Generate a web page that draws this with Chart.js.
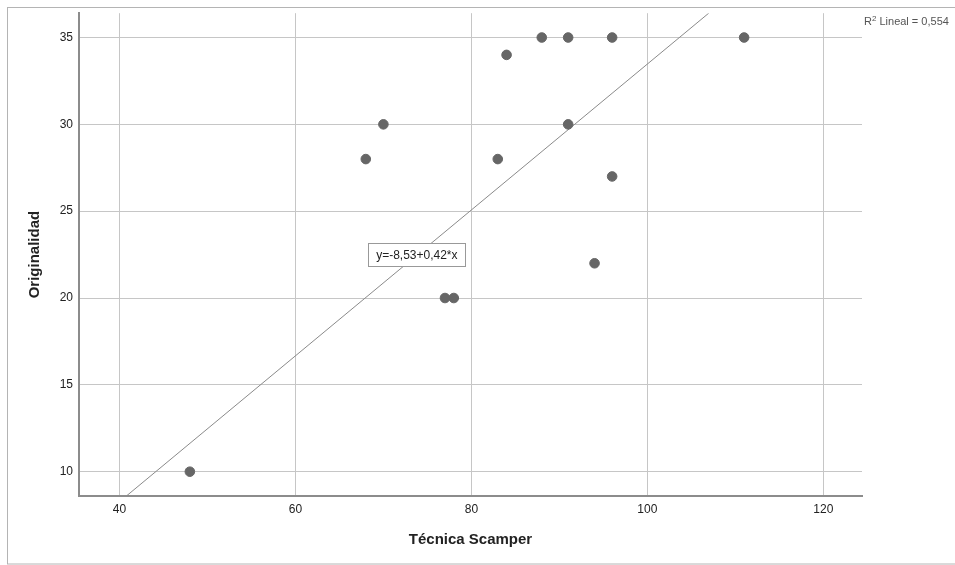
<!DOCTYPE html>
<html>
<head>
    <title>Técnica Scamper vs Originalidad</title>
    <style>
        html, body { margin: 0; padding: 0; background: #fff; }
        #wrap { width: 955px; height: 565px; position: relative; }
    </style>
</head>
<body>
    <div id="wrap"><canvas id="scatter" width="955" height="565"></canvas></div>
    <script src="https://cdn.jsdelivr.net/npm/chart.js"></script>
    <script>
        // observations
        const scamper = [48, 68, 70, 77, 78, 83, 84, 88, 91, 91, 94, 96, 96, 111];
        const originalidad = [10, 28, 30, 20, 20, 28, 34, 35, 35, 30, 22, 35, 27, 35];

        // fitted line  y = a + b*x
        const intercept = -8.53;
        const slope = 0.42;
        const rSquared = '0,554';

        const xTicks = [40, 60, 80, 100, 120];
        const yTicks = [10, 15, 20, 25, 30, 35];
        const xRange = [35.4, 124.4];
        const yRange = [8.6, 36.4];

        const points = scamper.map((x, i) => ({ x: x, y: originalidad[i] }));

        // endpoints of the fit line where it leaves the plot box
        const fitAt = x => intercept + slope * x;
        const x0 = Math.max(xRange[0], (yRange[0] - intercept) / slope);
        const x1 = Math.min(xRange[1], (yRange[1] - intercept) / slope);
        const fitLine = [{ x: x0, y: fitAt(x0) }, { x: x1, y: fitAt(x1) }];

        const eqText = 'y=-8,53+0,42*x';

        const extras = {
            id: 'extras',
            beforeDraw(chart) {
                const c = chart.ctx;
                c.save();
                c.strokeStyle = '#b4b4b4';
                c.lineWidth = 1;
                c.strokeRect(7.5, 7.5, 960, 556.5);
                c.restore();
            },
            afterDatasetsDraw(chart) {
                const c = chart.ctx;
                const xs = chart.scales.x, ys = chart.scales.y;
                c.save();
                // equation box
                c.font = '12px "Liberation Sans", Arial, sans-serif';
                const cx = xs.getPixelForValue(73.8);
                const cy = ys.getPixelForValue(22.5);
                const w = 97, h = 23;
                c.fillStyle = '#fff';
                c.fillRect(cx - w / 2, cy - h / 2, w, h);
                c.strokeStyle = '#999';
                c.lineWidth = 1;
                c.strokeRect(Math.round(cx - w / 2) + 0.5, Math.round(cy - h / 2) + 0.5, w, h);
                c.fillStyle = '#222';
                c.textAlign = 'center';
                c.textBaseline = 'middle';
                c.fillText(eqText, cx, cy + 1);

                // R² note in the corner
                c.textAlign = 'left';
                c.textBaseline = 'alphabetic';
                c.fillStyle = '#555';
                let tx = chart.chartArea.right + 2;
                const ty = 25;
                c.font = '11px "Liberation Sans", Arial, sans-serif';
                c.fillText('R', tx, ty);
                tx += c.measureText('R').width;
                c.font = '8px "Liberation Sans", Arial, sans-serif';
                c.fillText('2', tx, ty - 4);
                tx += c.measureText('2').width;
                c.font = '11px "Liberation Sans", Arial, sans-serif';
                c.fillText(' Lineal = ' + rSquared, tx, ty);
                c.restore();
            }
        };

        const font = { family: '"Liberation Sans", Arial, sans-serif', size: 12 };
        const titleFont = { family: '"Liberation Sans", Arial, sans-serif', size: 15, weight: 'bold' };

        new Chart(document.getElementById('scatter'), {
            type: 'scatter',
            data: {
                datasets: [{
                    label: 'Originalidad',
                    data: points,
                    backgroundColor: '#666',
                    borderColor: '#666',
                    pointRadius: 4.8,
                    pointHoverRadius: 4.8
                }, {
                    type: 'line',
                    label: 'Lineal',
                    data: fitLine,
                    borderColor: '#8a8a8a',
                    borderWidth: 1,
                    pointRadius: 0,
                    fill: false
                }]
            },
            options: {
                responsive: false,
                animation: false,
                layout: { padding: { top: 13, right: 93, left: 0, bottom: 0 } },
                plugins: { legend: { display: false }, tooltip: { enabled: false } },
                scales: {
                    x: {
                        type: 'linear',
                        min: xRange[0],
                        max: xRange[1],
                        afterBuildTicks: s => { s.ticks = xTicks.map(v => ({ value: v })); },
                        afterFit: s => { s.height = 565 - 496; },
                        grid: { color: '#c6c6c6', drawTicks: false },
                        border: { color: '#8c8c8c', width: 2 },
                        ticks: { color: '#222', font: font, padding: 6 },
                        title: { display: true, text: 'Técnica Scamper', color: '#222', font: titleFont, padding: { bottom: 16 } }
                    },
                    y: {
                        type: 'linear',
                        min: yRange[0],
                        max: yRange[1],
                        afterBuildTicks: s => { s.ticks = yTicks.map(v => ({ value: v })); },
                        afterFit: s => { s.width = 79; },
                        grid: { color: '#c6c6c6', drawTicks: false },
                        border: { color: '#8c8c8c', width: 2 },
                        ticks: { color: '#222', font: font, padding: 6 },
                        title: { display: true, text: 'Originalidad', color: '#222', font: titleFont, padding: { top: 26 } }
                    }
                }
            },
            plugins: [extras]
        });
    </script>
</body>
</html>
